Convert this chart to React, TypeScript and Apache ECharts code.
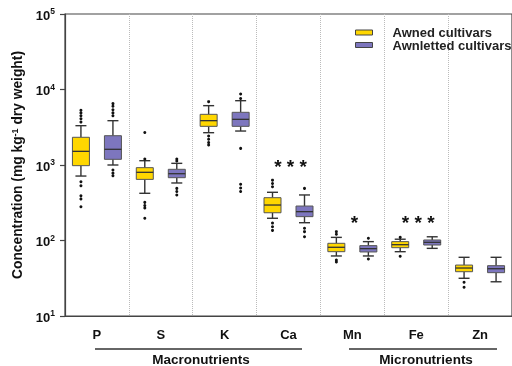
import { useEffect, useRef } from 'react';
import * as echarts from 'echarts';

const categories = ['P', 'S', 'K', 'Ca', 'Mn', 'Fe', 'Zn'];
const seriesNames = ['Awned cultivars', 'Awnletted cultivars'];
const yTickExponents = [1, 2, 3, 4, 5];

// [lower whisker, Q1, median, Q3, upper whisker]
const awnedBoxes = [
  [714, 980, 1517, 2328, 3318],
  [422, 645, 800, 922, 1140],
  [2679, 3251, 3865, 4690, 6109],
  [197, 233, 295, 369, 435],
  [62.4, 71.1, 81.3, 91.8, 110],
  [71.1, 80.3, 88, 96.6, 104],
  [31.6, 38.6, 43.2, 47.3, 59.9],
];
const awnlettedBoxes = [
  [1000, 1189, 1614, 2443, 3865],
  [578, 679, 767, 877, 1052],
  [2818, 3251, 4027, 4989, 7110],
  [172, 207, 241, 286, 401],
  [62.4, 70.5, 78, 85.5, 96.6],
  [78.7, 87.1, 94.6, 101.6, 112],
  [28.4, 37.5, 42.3, 46.4, 59.9],
];
const awnedOutliers = [
  [5300, 4900, 4500, 4100, 3700, 600, 530, 390, 355, 280],
  [2700, 1200, 320, 290, 270, 197],
  [6900, 2420, 2190, 1980, 1840],
  [630, 570, 515, 170, 152, 136],
  [131, 121, 55, 52],
  [110, 62],
  [28, 24],
];
const awnlettedOutliers = [
  [6500, 6000, 5400, 4900, 4500, 860, 780, 720],
  [1200, 1130, 490, 445, 400],
  [8700, 7600, 1660, 555, 495, 445],
  [490, 145, 131, 112],
  [107, 57],
  [],
  [],
];
const sigCategories = [3, 4, 5];
const sigLabels = ['* * *', '*', '* * *'];
const sigHeights = [950, 172, 172];

const groupLabels = ['Macronutrients', 'Micronutrients'];

const FONT = '"Liberation Sans", Arial, sans-serif';
const YELLOW = '#FFD700';
const PURPLE = '#7D76BE';

function boxRender(offset: number, fill: string) {
  return (params: any, api: any) => {
    const idx = api.value(0);
    const pLo = api.coord([idx, api.value(1)]);
    const pQ1 = api.coord([idx, api.value(2)]);
    const pMed = api.coord([idx, api.value(3)]);
    const pQ3 = api.coord([idx, api.value(4)]);
    const pHi = api.coord([idx, api.value(5)]);
    const x = pLo[0] + offset;
    const half = 8.5;
    const cap = 5.5;
    const ls = { stroke: '#333', lineWidth: 1.4 };
    return {
      type: 'group',
      children: [
        { type: 'line', shape: { x1: x, y1: pHi[1], x2: x, y2: pQ3[1] }, style: ls },
        { type: 'line', shape: { x1: x, y1: pQ1[1], x2: x, y2: pLo[1] }, style: ls },
        { type: 'line', shape: { x1: x - cap, y1: pHi[1], x2: x + cap, y2: pHi[1] }, style: ls },
        { type: 'line', shape: { x1: x - cap, y1: pLo[1], x2: x + cap, y2: pLo[1] }, style: ls },
        {
          type: 'rect',
          shape: { x: x - half, y: pQ3[1], width: half * 2, height: pQ1[1] - pQ3[1] },
          style: { fill, stroke: '#555', lineWidth: 1 },
        },
        { type: 'line', shape: { x1: x - half, y1: pMed[1], x2: x + half, y2: pMed[1] }, style: { stroke: '#333', lineWidth: 1.3 } },
      ],
    };
  };
}

function outlierRender(offset: number) {
  return (params: any, api: any) => {
    const p = api.coord([api.value(0), api.value(1)]);
    return { type: 'circle', shape: { cx: p[0] + offset, cy: p[1], r: 1.5 }, style: { fill: '#111' } };
  };
}

function flattenOutliers(arr: number[][]) {
  const out: number[][] = [];
  arr.forEach((vals, i) => vals.forEach((v) => out.push([i, v])));
  return out;
}

export default function App() {
  const ref = useRef<HTMLDivElement>(null);
  useEffect(() => {
    if (!ref.current) return;
    const chart = echarts.init(ref.current, undefined, { renderer: 'svg' });
    const OFF = 16;
    chart.setOption({
      animation: false,
      textStyle: { fontFamily: FONT },
      grid: { left: 65, top: 14, width: 455, height: 302, show: true, borderColor: '#444', borderWidth: 1.2 },
      legend: {
        orient: 'vertical',
        left: 355,
        top: 26,
        padding: 0,
        itemWidth: 17,
        itemHeight: 5,
        itemGap: -0.5,
        selectedMode: false,
        textStyle: { fontFamily: FONT, fontWeight: 'bold', fontSize: 13, color: '#222', lineHeight: 12, padding: [0, 0, 0, 15] },
        data: [
          { name: seriesNames[0], icon: 'rect', itemStyle: { color: YELLOW, borderColor: '#444', borderWidth: 1 } },
          { name: seriesNames[1], icon: 'rect', itemStyle: { color: PURPLE, borderColor: '#444', borderWidth: 1 } },
        ],
      },
      xAxis: {
        type: 'category',
        data: categories,
        boundaryGap: true,
        axisLine: { lineStyle: { color: '#444', width: 1.2 } },
        axisTick: { alignWithLabel: true, length: 5, lineStyle: { color: '#444', width: 1.2 } },
        axisLabel: { fontFamily: FONT, fontWeight: 'bold', fontSize: 13, color: '#111', margin: 12 },
        splitLine: { show: true, lineStyle: { type: 'dotted', color: '#bbb', width: 1 } },
      },
      yAxis: {
        type: 'log',
        logBase: 10,
        min: 10,
        max: 100000,
        axisLine: { show: true, lineStyle: { color: '#444', width: 1.2 } },
        axisTick: { show: true, length: 5, lineStyle: { color: '#444', width: 1.2 } },
        splitLine: { show: false },
        axisLabel: {
          margin: 10,
          formatter: (v: number) => {
            const e = Math.round(Math.log10(v));
            return yTickExponents.includes(e) ? `{b|10}{s|${e}}` : '';
          },
          rich: {
            b: { fontFamily: FONT, fontWeight: 'bold', fontSize: 13, color: '#111', lineHeight: 15, verticalAlign: 'bottom' },
            s: { fontFamily: FONT, fontWeight: 'bold', fontSize: 8.5, color: '#111', lineHeight: 9, verticalAlign: 'top' },
          },
        },
        name: 'Concentration (mg kg{s|-1} dry weight)',
        nameLocation: 'middle',
        nameGap: 40,
        nameTextStyle: {
          fontFamily: FONT,
          fontWeight: 'bold',
          fontSize: 13.8,
          color: '#111',
          rich: {
            s: { fontFamily: FONT, fontWeight: 'bold', fontSize: 9, color: '#111', verticalAlign: 'top', lineHeight: 9 },
          },
        },
      },
      graphic: [
        { type: 'line', shape: { x1: 95, y1: 349, x2: 302, y2: 349 }, style: { stroke: '#333', lineWidth: 1.5 } },
        { type: 'line', shape: { x1: 349, y1: 349, x2: 497, y2: 349 }, style: { stroke: '#333', lineWidth: 1.5 } },
        {
          type: 'text', x: 201, y: 359,
          style: { text: groupLabels[0], fontFamily: FONT, fontWeight: 'bold', fontSize: 13.5, fill: '#111', align: 'center', verticalAlign: 'middle' },
        },
        {
          type: 'text', x: 426, y: 359,
          style: { text: groupLabels[1], fontFamily: FONT, fontWeight: 'bold', fontSize: 13.5, fill: '#111', align: 'center', verticalAlign: 'middle' },
        },
      ],
      series: [
        {
          name: seriesNames[0],
          type: 'custom',
          itemStyle: { color: YELLOW },
          encode: { x: 0, y: [1, 2, 3, 4, 5] },
          data: awnedBoxes.map((b, i) => [i, ...b]),
          renderItem: boxRender(-OFF, YELLOW),
          z: 3,
        },
        {
          name: seriesNames[1],
          type: 'custom',
          itemStyle: { color: PURPLE },
          encode: { x: 0, y: [1, 2, 3, 4, 5] },
          data: awnlettedBoxes.map((b, i) => [i, ...b]),
          renderItem: boxRender(OFF, PURPLE),
          z: 3,
        },
        {
          name: 'awnedOut',
          type: 'custom',
          encode: { x: 0, y: 1 },
          data: flattenOutliers(awnedOutliers),
          renderItem: outlierRender(-OFF),
          z: 4,
        },
        {
          name: 'awnlettedOut',
          type: 'custom',
          encode: { x: 0, y: 1 },
          data: flattenOutliers(awnlettedOutliers),
          renderItem: outlierRender(OFF),
          z: 4,
        },
        {
          name: 'sig',
          type: 'custom',
          encode: { x: 0, y: 1 },
          data: sigCategories.map((c, i) => [c, sigHeights[i]]),
          renderItem: (params: any, api: any) => {
            const p = api.coord([api.value(0), api.value(1)]);
            return {
              type: 'text',
              x: p[0] + 2,
              y: p[1],
              style: {
                text: sigLabels[params.dataIndex],
                fontFamily: FONT,
                fontWeight: 'bold',
                fontSize: 19,
                fill: '#111',
                align: 'center',
                verticalAlign: 'middle',
              },
            };
          },
          z: 5,
        },
      ],
    });
    return () => chart.dispose();
  }, []);
  return <div ref={ref} style={{ position: 'fixed', left: 0, top: 0, width: 512, height: 366 }} />;
}
